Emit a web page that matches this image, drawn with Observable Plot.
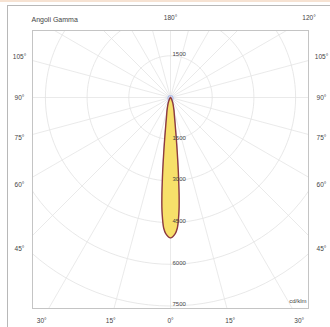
<!DOCTYPE html>
<html><head><meta charset="utf-8">
<script src="https://cdn.jsdelivr.net/npm/d3@7"></script>
<script src="https://cdn.jsdelivr.net/npm/@observablehq/plot@0.6"></script>
<style>
html,body{margin:0;padding:0;background:#fff;overflow:hidden;width:330px;height:327px}
#wrap{position:relative;width:330px;height:327px;overflow:hidden}
#chart{position:absolute;left:0;top:0}
#outer{position:absolute;left:7px;top:5px;width:340px;height:340px;border:1.5px solid #b8b8b8;box-sizing:border-box;background:transparent}
#topbar{position:absolute;left:0;top:0;width:330px;height:2px;background:#f6e2d2}
</style></head><body>
<div id="wrap"><div id="chart"></div><div id="outer"></div><div id="topbar"></div></div>
<script>
// Photometric data (cd/klm), gamma angles in degrees from nadir
const gammaC0 = [0, 2, 3, 3.5, 4, 4.5, 5, 5.5, 6, 7, 8, 10, 12, 15, 20, 25, 30, 40, 50, 60, 90];
const intensityC0 = [5050, 4900, 4700, 4500, 4250, 3950, 3550, 3100, 2700, 2000, 1500, 950, 680, 480, 280, 160, 90, 40, 15, 5, 0];
const gammaC90 = [0, 2, 3, 4, 5, 6, 7, 8, 10, 12, 15, 20, 30, 45, 60, 90, 120, 150, 180];
const intensityC90 = [5050, 4880, 4660, 4200, 3480, 2620, 1950, 1450, 920, 660, 470, 290, 150, 110, 100, 90, 80, 70, 60];
const ringValues = [1500, 3000, 4500, 6000, 7500];
const ringLabelValues = [-1500, 1500, 3000, 4500, 6000, 7500];
const spokeAngles = [0, 15, 30, 45, 60, 75, 90, 105, 120, 135, 150, 165, 180, 195, 210, 225, 240, 255, 270, 285, 300, 315, 330, 345];
const angleLabelAngles = [-105, -90, -75, -60, -45, -30, -15, 0, 15, 30, 45, 60, 75, 90, 105, 120, 180];
const titleText = "Angoli Gamma";
const unitText = "cd/klm";

// layout
const W = 330, H = 327, mL = 32, mR = 22, mT = 30, mB = 19;
const cxPx = 170, cyPx = 97, pxPerUnit = 41.7 / 1500;
const xDom = [(mL - cxPx) / pxPerUnit, (W - mR - cxPx) / pxPerUnit];
const yDom = [(mT - cyPx) / pxPerUnit, (H - mB - cyPx) / pxPerUnit];
const rad = d => d * Math.PI / 180;

function lobe(gam, val) {
  const pts = [];
  for (let i = gam.length - 1; i > 0; i--) pts.push({g: -gam[i], v: val[i]});
  for (let i = 0; i < gam.length; i++) pts.push({g: gam[i], v: val[i]});
  return pts.map(p => ({x: p.v * Math.sin(rad(p.g)), y: p.v * Math.cos(rad(p.g))}));
}
const c0 = lobe(gammaC0, intensityC0);
const c90 = lobe(gammaC90, intensityC90);

const ringPts = [];
for (const v of ringValues) for (let a = 0; a <= 360; a += 3)
  ringPts.push({ring: v, x: v * Math.sin(rad(a)), y: v * Math.cos(rad(a))});

const spokeR = 12000;
const labL = 151 / pxPerUnit, labT = 80 / pxPerUnit, labB = 223 / pxPerUnit;
const angleLabels = angleLabelAngles.map(a => {
  const sx = Math.sin(rad(a)), sy = Math.cos(rad(a));
  let t = Infinity;
  if (Math.abs(sx) > 1e-6) t = Math.min(t, labL / Math.abs(sx));
  if (sy > 1e-6) t = Math.min(t, labB / sy);
  if (sy < -1e-6) t = Math.min(t, labT / -sy);
  return {x: t * sx, y: t * sy, text: Math.abs(a) + "°"};
});
const ringLabels = ringLabelValues.map(v => ({y: v, text: String(Math.abs(v))}));

const chart = Plot.plot({
  width: W, height: H,
  marginLeft: mL, marginRight: mR, marginTop: mT, marginBottom: mB,
  style: {background: "transparent", fontFamily: "'Liberation Sans', Arial, sans-serif"},
  x: {domain: xDom, axis: null},
  y: {domain: yDom, reverse: true, axis: null},
  marks: [
    Plot.link(spokeAngles, {
      x1: () => 0, y1: () => 0,
      x2: a => spokeR * Math.sin(rad(a)), y2: a => spokeR * Math.cos(rad(a)),
      stroke: "#e4e4e4", strokeWidth: 0.8, clip: "frame"
    }),
    Plot.line(ringPts, {x: "x", y: "y", z: "ring", stroke: "#e2e2e2", strokeWidth: 0.8, clip: "frame"}),
    Plot.frame({stroke: "#c4c4c4", strokeWidth: 1}),
    Plot.line(c90, {x: "x", y: "y", curve: "catmull-rom-closed", stroke: "#a9b9ea", strokeWidth: 1.1, fill: "#e6ebfb", fillOpacity: 0.6}),
    Plot.line(c0, {x: "x", y: "y", curve: "catmull-rom-closed", stroke: "#8e3b3f", strokeWidth: 1.4, fill: "#f7e06a"}),
    Plot.text(ringLabels, {
      x: () => 0, y: "y", text: "text", textAnchor: "start", dx: 2, dy: -1.5,
      fontSize: 6, fill: "#444"
    }),
    Plot.text(angleLabels, {x: "x", y: "y", text: "text", fontSize: 6.5, fill: "#444"}),
    Plot.text([titleText], {frameAnchor: "top-left", text: d => d, textAnchor: "start", dx: -1, dy: -13, fontSize: 7, fill: "#444"}),
    Plot.text([unitText], {frameAnchor: "bottom-right", text: d => d, textAnchor: "end", dx: -2, dy: -6, fontSize: 6, fill: "#444"})
  ]
});
document.getElementById("chart").appendChild(chart);
</script>
</body></html>
